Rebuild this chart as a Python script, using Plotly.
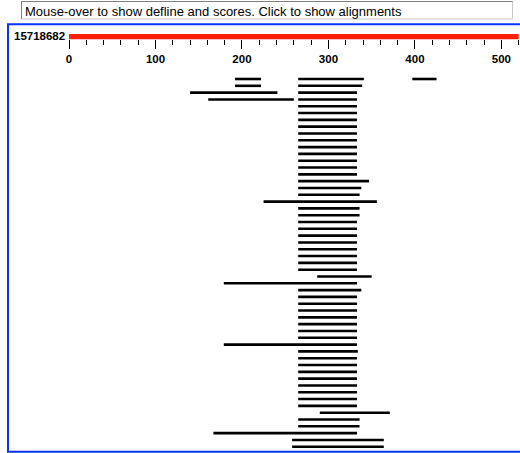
import plotly.graph_objects as go

# ---------------- data ----------------
query_id = "15718682"
query_len = 520
header_text = "Mouse-over to show defline and scores. Click to show alignments"

# one entry per aligned segment: row index (1 = top), start, end (query coords)
hit_rows = [1, 1, 1,
            2, 2,
            3, 3,
            4, 4,
            5, 6, 7, 8, 9, 10, 11, 12, 13, 14, 15,
            16, 17, 18, 19, 20, 21,
            22, 23, 24, 25, 26, 27, 28, 29,
            30, 31, 32,
            33, 34, 35, 36, 37, 38, 39,
            40, 41,
            42, 43, 44, 45, 46, 47, 48, 49,
            50, 51, 52, 53, 54, 55]
hit_starts = [192, 265, 397,
              192, 265,
              140, 265,
              161, 265,
              265, 265, 265, 265, 265, 265, 265, 265, 265, 265, 265,
              265, 265, 265, 225, 265, 265,
              265, 265, 265, 265, 265, 265, 265, 265,
              287, 179, 265,
              265, 265, 265, 265, 265, 265, 265,
              179, 265,
              265, 265, 265, 265, 265, 265, 265, 265,
              290, 265, 265, 167, 258, 258]
hit_ends = [222, 341, 425,
            222, 339,
            241, 333,
            260, 333,
            333, 333, 333, 333, 333, 333, 333, 333, 333, 333, 333,
            347, 338, 336, 356, 336, 336,
            333, 333, 333, 333, 333, 333, 333, 333,
            350, 333, 338,
            333, 333, 333, 333, 333, 333, 333,
            333, 334,
            333, 333, 333, 333, 333, 333, 333, 333,
            371, 336, 336, 333, 364, 364]

major_tick = 100
minor_tick = 20

# ---------------- layout geometry ----------------
W, H = 520, 453
L = 69
PW = W - L

def px_x(p):
    return (p - L) / PW

def px_y(p):
    return 1 - p / H

row_top_px = 79.0
row_step_px = 6.81
n_rows_visible = H / row_step_px
y_top = 1 - row_top_px / row_step_px
y_bottom = y_top + n_rows_visible

# build segment trace
xs, ys = [], []
for r, s, e in zip(hit_rows, hit_starts, hit_ends):
    xs += [s, e, None]
    ys += [r, r, None]

fig = go.Figure()
fig.add_trace(go.Scatter(
    x=xs, y=ys, mode="lines",
    line=dict(color="black", width=2.6),
    hoverinfo="skip", showlegend=False, connectgaps=False,
))

shapes = []
# blue frame
shapes.append(dict(type="rect", xref="paper", yref="paper",
                   x0=px_x(8), x1=px_x(560), y0=px_y(451.7), y1=px_y(24.3),
                   line=dict(color="#0a32ff", width=2), fillcolor="rgba(0,0,0,0)", layer="above"))
# header box (inset style)
shapes.append(dict(type="rect", xref="paper", yref="paper",
                   x0=px_x(21.5), x1=px_x(512.5), y0=px_y(19), y1=px_y(1.5),
                   line=dict(color="#c8c8c8", width=1), fillcolor="white"))
shapes.append(dict(type="line", xref="paper", yref="paper",
                   x0=px_x(21.5), x1=px_x(512.5), y0=px_y(1.5), y1=px_y(1.5),
                   line=dict(color="#808080", width=1)))
shapes.append(dict(type="line", xref="paper", yref="paper",
                   x0=px_x(21.5), x1=px_x(21.5), y0=px_y(1.5), y1=px_y(19),
                   line=dict(color="#808080", width=1)))
# query bar (red) in data x units
shapes.append(dict(type="rect", xref="x", yref="paper",
                   x0=0, x1=query_len, y0=px_y(39.3), y1=px_y(34),
                   line=dict(width=0), fillcolor="#ff2000"))

annotations = [
    dict(text=header_text, xref="paper", yref="paper", x=px_x(23), y=px_y(11),
         xanchor="left", yanchor="middle", showarrow=False,
         font=dict(family="Liberation Sans", size=13, color="black")),
    dict(text=query_id, xref="paper", yref="paper", x=px_x(67), y=px_y(36.5),
         xanchor="right", yanchor="middle", showarrow=False,
         font=dict(family="Liberation Sans", size=11.5, color="black", weight="bold")),
]

fig.update_layout(
    width=W, height=H,
    margin=dict(l=L, r=0, t=0, b=0, pad=0),
    paper_bgcolor="white", plot_bgcolor="white",
    shapes=shapes, annotations=annotations,
    hovermode=False,
    xaxis=dict(range=[0, 521.5], anchor="free", position=px_y(39.3), side="bottom",
               showgrid=False, zeroline=False, showline=False,
               ticks="outside", ticklen=8.5, tickwidth=1, tickcolor="black",
               dtick=major_tick, tick0=0,
               tickfont=dict(family="Liberation Sans", size=11.5, color="black", weight="bold"),
               minor=dict(dtick=minor_tick, tick0=0, ticks="outside", ticklen=5,
                          tickwidth=1, tickcolor="black", showgrid=False),
               automargin=False, fixedrange=True),
    yaxis=dict(range=[y_bottom, y_top], visible=False, showgrid=False,
               zeroline=False, automargin=False, fixedrange=True),
)

fig.write_html("out.html", config={"displayModeBar": False},
               post_script="document.body.style.margin='0px';document.body.style.overflow='hidden';")
